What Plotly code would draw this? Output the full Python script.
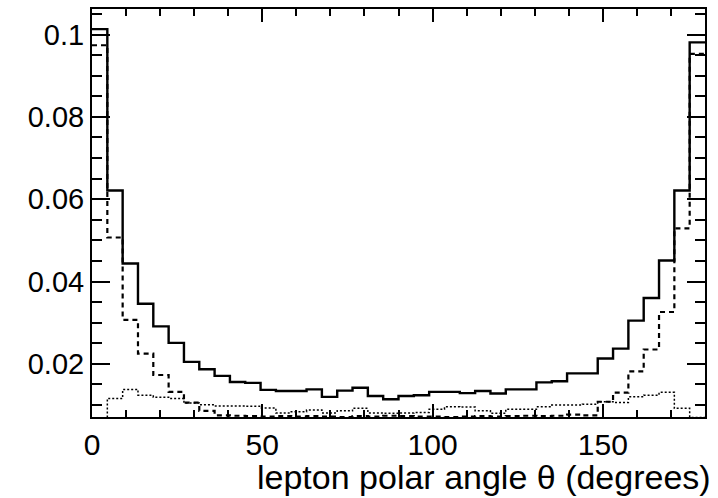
import plotly.graph_objects as go

# 40 bins of 4.5 degrees between 0 and 180
bin_edges = [i * 4.5 for i in range(41)]

solid = [0.1013, 0.0621, 0.0444, 0.0346, 0.0291, 0.0251, 0.0205, 0.0187, 0.0171, 0.0156,
         0.0154, 0.0137, 0.0134, 0.0134, 0.0138, 0.0120, 0.0135, 0.0142, 0.0122, 0.0114,
         0.0122, 0.0124, 0.0132, 0.0132, 0.0129, 0.0134, 0.0128, 0.0138, 0.0138, 0.0155,
         0.0158, 0.0177, 0.0177, 0.0213, 0.0237, 0.0305, 0.0360, 0.0451, 0.0621, 0.0981]

dashed = [0.0974, 0.0507, 0.0307, 0.0225, 0.0173, 0.0132, 0.0106, 0.0086, 0.0075, 0.0074,
          0.0073, 0.0072, 0.0073, 0.0072, 0.0073, 0.0072, 0.0071, 0.0073, 0.0072, 0.0074,
          0.0073, 0.0072, 0.0072, 0.0071, 0.0072, 0.0073, 0.0072, 0.0073, 0.0074, 0.0073,
          0.0074, 0.0077, 0.0075, 0.0108, 0.0130, 0.0182, 0.0235, 0.0326, 0.0529, 0.0953]

dotted = [0.0068, 0.0116, 0.0138, 0.0124, 0.0119, 0.0116, 0.0105, 0.0101, 0.0098, 0.0098,
          0.0097, 0.0093, 0.0081, 0.0084, 0.0088, 0.0081, 0.0086, 0.0092, 0.0081, 0.0080,
          0.0081, 0.0082, 0.0090, 0.0096, 0.0095, 0.0086, 0.0080, 0.0090, 0.0090, 0.0096,
          0.0100, 0.0100, 0.0102, 0.0108, 0.0106, 0.0120, 0.0124, 0.0131, 0.0092, 0.0070]

x_ticks = [0, 50, 100, 150]
y_ticks = [0.02, 0.04, 0.06, 0.08, 0.1]
y_tick_text = ["0.02", "0.04", "0.06", "0.08", "0.1"]
x_title = "lepton polar angle \u03b8 (degrees)"

FONT = "Liberation Sans, Arial, Helvetica, sans-serif"


def step(vals):
    return bin_edges, list(vals) + [vals[-1]]


fig = go.Figure()
for vals, dash, width in [(dotted, "2px,2px", 1.5), (dashed, "5px,4px", 2.2), (solid, "solid", 2.4)]:
    xs, ys = step(vals)
    fig.add_trace(go.Scatter(x=xs, y=ys, mode="lines", line_shape="hv",
                             line=dict(color="black", width=width, dash=dash),
                             showlegend=False, hoverinfo="skip"))

fig.update_layout(
    width=718, height=498,
    margin=dict(l=92, r=13, t=7, b=81),
    paper_bgcolor="white", plot_bgcolor="white",
    font=dict(family=FONT, color="black"),
    showlegend=False,
)
fig.update_xaxes(
    range=[0, 180], tickvals=x_ticks, ticktext=[str(v) for v in x_ticks],
    ticks="inside", ticklen=13, tickwidth=2, tickcolor="black",
    minor=dict(ticks="inside", dtick=10, tick0=0, ticklen=7, tickwidth=2, tickcolor="black", showgrid=False),
    showline=True, linewidth=2, linecolor="black", mirror="allticks",
    showgrid=False, zeroline=False,
    tickfont=dict(size=30, family=FONT, color="black"),
)
fig.update_yaxes(
    range=[0.0071, 0.1062], tickvals=y_ticks, ticktext=y_tick_text,
    ticks="inside", ticklen=18, tickwidth=2, tickcolor="black",
    minor=dict(ticks="inside", dtick=0.005, tick0=0, ticklen=10, tickwidth=2, tickcolor="black", showgrid=False),
    showline=True, linewidth=2, linecolor="black", mirror="allticks",
    showgrid=False, zeroline=False,
    tickfont=dict(size=29, family=FONT, color="black"),
)
fig.add_annotation(
    text=x_title, xref="paper", yref="paper", x=1, y=0,
    xanchor="right", yanchor="top", xshift=8, yshift=-39,
    showarrow=False, font=dict(size=34, family=FONT, color="black"),
)

fig.write_html("out.html")
